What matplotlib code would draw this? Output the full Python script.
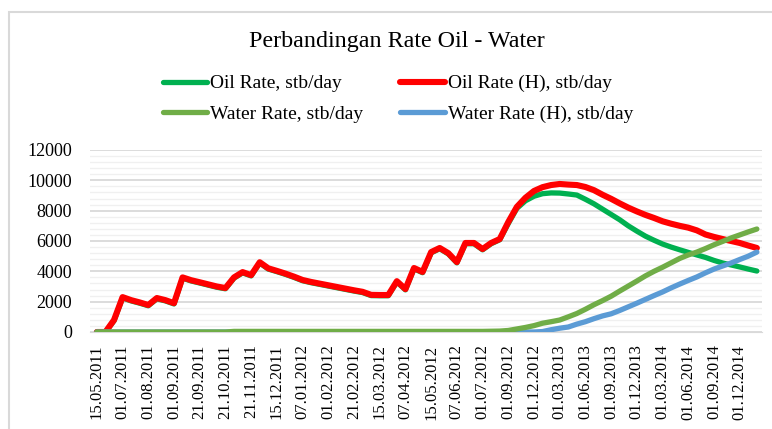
import numpy as np
import matplotlib
matplotlib.use("Agg")
import matplotlib.pyplot as plt
from matplotlib.patches import Rectangle
from matplotlib.ticker import MultipleLocator

plt.rcParams['font.family'] = ['Liberation Serif', 'DejaVu Serif']

# tick labels (one every 3 data points on the category axis)
date_labels = ['15.05.2011', '01.07.2011', '01.08.2011', '01.09.2011', '21.09.2011',
               '21.10.2011', '21.11.2011', '15.12.2011', '07.01.2012', '01.02.2012',
               '21.02.2012', '15.03.2012', '07.04.2012', '15.05.2012', '07.06.2012',
               '01.07.2012', '01.09.2012', '01.12.2012', '01.03.2013', '01.06.2013',
               '01.09.2013', '01.12.2013', '01.03.2014', '01.06.2014', '01.09.2014',
               '01.12.2014']

# Oil Rate (H) - history
oil_h = [0, 0, 790, 2300, 2100, 1950, 1780, 2240, 2100, 1900,
         3600, 3415, 3280, 3140, 3000, 2900, 3600, 3950, 3750, 4600,
         4200, 4030, 3850, 3650, 3430, 3300, 3190, 3080, 2970, 2860,
         2750, 2650, 2450, 2440, 2440, 3350, 2830, 4220, 3960, 5270,
         5540, 5200, 4610, 5870, 5870, 5470, 5870, 6130, 7250, 8250,
         8850, 9300, 9550, 9690, 9760, 9720, 9690, 9560, 9350, 9050,
         8780, 8480, 8200, 7950, 7720, 7520, 7300, 7140, 7000, 6880,
         6700, 6430, 6270, 6130, 6000, 5870, 5700, 5540]

# Oil Rate - simulation
oil_sim = [0, 0, 740, 2250, 2050, 1900, 1730, 2190, 2050, 1850,
           3550, 3365, 3230, 3090, 2950, 2850, 3550, 3900, 3700, 4550,
           4150, 3980, 3800, 3600, 3380, 3250, 3140, 3030, 2920, 2810,
           2700, 2600, 2400, 2390, 2390, 3300, 2780, 4170, 3910, 5220,
           5490, 5150, 4560, 5820, 5820, 5420, 5820, 6080, 7150, 8150,
           8650, 8950, 9120, 9170, 9160, 9100, 9030, 8750, 8450, 8100,
           7750, 7400, 7000, 6650, 6320, 6050, 5800, 5600, 5420, 5250,
           5080, 4920, 4720, 4550, 4420, 4290, 4150, 4020]

# Water Rate - simulation
water_sim = [0, 0, 0, 0, 0, 0, 0, 0, 0, 0,
             0, 0, 0, 0, 0, 0, 40, 40, 40, 40,
             40, 40, 40, 40, 40, 40, 40, 40, 40, 40,
             40, 40, 40, 40, 40, 40, 40, 40, 40, 40,
             40, 40, 40, 40, 40, 40, 50, 60, 100, 200,
             300, 420, 580, 680, 790, 1000, 1220, 1500, 1800, 2070,
             2360, 2700, 3030, 3360, 3700, 4000, 4270, 4560, 4850, 5080,
             5270, 5500, 5750, 5970, 6200, 6400, 6600, 6790]

# Water Rate (H) - history
water_h = [0] * 52 + [30, 150, 250, 330, 520, 680, 880, 1060,
                      1200, 1420, 1660, 1900, 2150, 2400, 2640, 2910, 3160, 3400,
                      3630, 3900, 4150, 4350, 4550, 4780, 5000, 5270]

x = np.arange(len(oil_h))

fig = plt.figure(figsize=(7.72, 4.29), dpi=100)
ax = fig.add_axes([90 / 772, 1 - 332 / 429, (762 - 90) / 772, (332 - 150) / 429])

ax.plot(x, oil_sim, color='#00B050', lw=3.8, zorder=3, solid_capstyle='round', label='Oil Rate, stb/day')
ax.plot(x, oil_h, color='#FF0000', lw=4.4, zorder=4, solid_capstyle='round', label='Oil Rate (H), stb/day')
ax.plot(x, water_h, color='#5B9BD5', lw=3.8, zorder=5, solid_capstyle='round', label='Water Rate (H), stb/day')
ax.plot(x, water_sim, color='#70AD47', lw=3.8, zorder=6, solid_capstyle='round', label='Water Rate, stb/day')

ax.set_ylim(0, 12000)
ax.set_xlim(-0.8, len(x) - 1 + 0.6)
ax.yaxis.set_major_locator(MultipleLocator(2000))
ax.yaxis.set_minor_locator(MultipleLocator(400))
ax.grid(True, which='major', axis='y', color='#d9d9d9', lw=1.3, zorder=0)
ax.grid(True, which='minor', axis='y', color='#f0f0f0', lw=1.0, zorder=0)
ax.set_axisbelow(True)

ax.set_xticks(x[::3])
ax.set_xticklabels(date_labels, rotation=90, fontsize=12)
ax.tick_params(axis='x', length=0, pad=9)
ax.tick_params(axis='y', which='both', length=0, pad=13, labelsize=13)

for s in ['top', 'right', 'left']:
    ax.spines[s].set_visible(False)
ax.spines['bottom'].set_color('#d9d9d9')

fig.text(397 / 772, 1 - 42 / 429, 'Perbandingan Rate Oil - Water', ha='center', va='center', fontsize=17.3)

h, l = ax.get_legend_handles_labels()
order = [0, 3, 1, 2]
fig.legend([h[i] for i in order], [l[i] for i in order], ncol=2, frameon=False,
           loc='center', bbox_to_anchor=(398 / 772, 1 - 99 / 429), fontsize=14,
           handlelength=2.3, handletextpad=0.15, columnspacing=1.9, labelspacing=0.68)

fig.patches.append(Rectangle((9 / 772, -0.1), 1.2, 1 - 12 / 429 + 0.1, transform=fig.transFigure,
                             fill=False, edgecolor='#d9d9d9', lw=1.5))

fig.savefig('out.png', dpi=100)
